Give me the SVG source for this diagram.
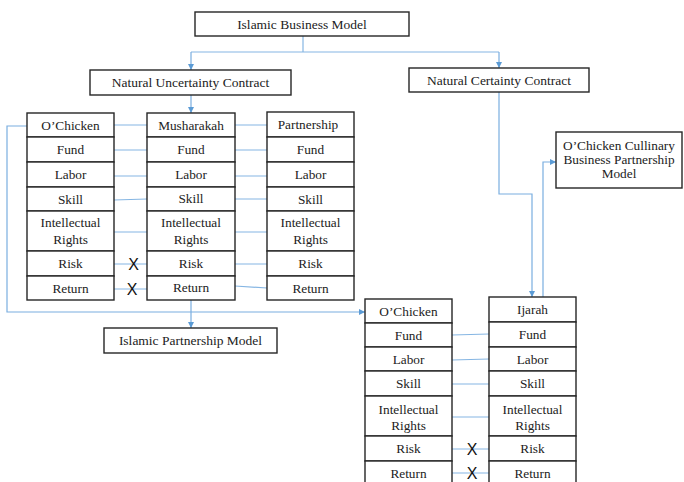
<svg xmlns="http://www.w3.org/2000/svg" width="684" height="482" viewBox="0 0 684 482">
<defs>
<marker id="ar" viewBox="0 0 10 10" refX="10" refY="5" markerWidth="6" markerHeight="6" orient="auto" markerUnits="userSpaceOnUse">
<path d="M0,0 L10,5 L0,10 z" fill="#5b9bd5"/>
</marker>
<style>
rect{fill:#fff;stroke:#262626;stroke-width:1.4}
text{font-family:"Liberation Serif","Times New Roman",serif;fill:#222;text-anchor:middle}
.t{font-size:13.3px}
.h{font-size:13.5px}
.x{font-family:"Liberation Sans",Arial,sans-serif;font-size:16px;fill:#111}
.c{fill:none;stroke:#86b6e3;stroke-width:1.2}
.a{fill:none;stroke:#7aaee0;stroke-width:1.2;marker-end:url(#ar)}
</style>
</defs>
<rect x="0" y="0" width="684" height="482" style="fill:#fff;stroke:none"/>
<g id="connectors">
<path class="c" d="M303,36 V52 M191,52 H499"/>
<path class="a" d="M191,52 V70"/>
<path class="a" d="M499,52 V68"/>
<path class="a" d="M191,95 V113"/>
<path class="a" d="M191,300 V328"/>
<path class="a" d="M27,126 H7 V312 H365"/>
<path class="a" d="M499,92 V194 H532 V297"/>
<path class="a" d="M543,297 V162 H556"/>
<path class="c" d="M114,125 H147 M114,150 H147 M114,176 H147 M114,200 L147,199 M114,232 H147 M114,264 H147 M114,289 H147"/>
<path class="c" d="M235,125 H267 M235,150 H267 M235,176 H267 M235,199 H267 M235,232 H267 M235,264 H267 M235,286 L267,288"/>
<path class="c" d="M452,335 L489,334 M452,360 L489,359 M452,384 H489 M452,417 H489 M452,449 H489 M452,473 H489"/>
</g>
<g id="islamic-business-model"><rect x="195" y="12" width="214" height="24"/><text class="h" x="302" y="28.5">Islamic Business Model</text></g>
<g id="natural-uncertainty"><rect x="90" y="70" width="201" height="25"/><text class="h" x="190.5" y="87">Natural Uncertainty Contract</text></g>
<g id="natural-certainty"><rect x="409" y="68" width="180" height="24"/><text class="h" x="499" y="85">Natural Certainty Contract</text></g>
<g id="islamic-partnership-model"><rect x="104" y="328" width="173" height="25"/><text class="h" x="190.5" y="345">Islamic Partnership Model</text></g>
<g id="ochicken-cullinary"><rect x="556" y="132" width="126" height="56"/><text class="t" x="619" y="149.5">O’Chicken Cullinary</text><text class="t" x="619" y="163.5">Business Partnership</text><text class="t" x="619" y="177.5">Model</text></g>
<g id="table-ochicken-left">
<rect x="27" y="113" width="87" height="24"/><text class="t" x="70.5" y="129.5">O’Chicken</text>
<rect x="27" y="137" width="87" height="25"/><text class="t" x="70.5" y="154">Fund</text>
<rect x="27" y="162" width="87" height="25"/><text class="t" x="70.5" y="179">Labor</text>
<rect x="27" y="187" width="87" height="24"/><text class="t" x="70.5" y="203.5">Skill</text>
<rect x="27" y="211" width="87" height="40"/><text class="t" x="70.5" y="226.5">Intellectual</text><text class="t" x="70.5" y="243.5">Rights</text>
<rect x="27" y="251" width="87" height="25"/><text class="t" x="70.5" y="268">Risk</text>
<rect x="27" y="276" width="87" height="24"/><text class="t" x="70.5" y="292.5">Return</text>
</g>
<g id="table-musharakah">
<rect x="147" y="113" width="88" height="24"/><text class="t" x="191" y="129.5">Musharakah</text>
<rect x="147" y="137" width="88" height="25"/><text class="t" x="191" y="154">Fund</text>
<rect x="147" y="162" width="88" height="25"/><text class="t" x="191" y="179">Labor</text>
<rect x="147" y="187" width="88" height="24"/><text class="t" x="191" y="203">Skill</text>
<rect x="147" y="211" width="88" height="40"/><text class="t" x="191" y="226.5">Intellectual</text><text class="t" x="191" y="243.5">Rights</text>
<rect x="147" y="251" width="88" height="25"/><text class="t" x="191" y="267.5">Risk</text>
<rect x="147" y="276" width="88" height="24"/><text class="t" x="191" y="292">Return</text>
</g>
<g id="table-partnership">
<rect x="267" y="112" width="87" height="25"/><text class="t" x="308" y="129">Partnership</text>
<rect x="267" y="137" width="87" height="25"/><text class="t" x="310.5" y="154">Fund</text>
<rect x="267" y="162" width="87" height="25"/><text class="t" x="310.5" y="179">Labor</text>
<rect x="267" y="187" width="87" height="24"/><text class="t" x="310.5" y="203.5">Skill</text>
<rect x="267" y="211" width="87" height="40"/><text class="t" x="310.5" y="226.5">Intellectual</text><text class="t" x="310.5" y="243.5">Rights</text>
<rect x="267" y="251" width="87" height="25"/><text class="t" x="310.5" y="268">Risk</text>
<rect x="267" y="276" width="87" height="24"/><text class="t" x="310.5" y="292.5">Return</text>
</g>
<g id="table-ochicken-right">
<rect x="365" y="299" width="87" height="24"/><text class="t" x="408.5" y="315.5">O’Chicken</text>
<rect x="365" y="323" width="87" height="24"/><text class="t" x="408.5" y="339.5">Fund</text>
<rect x="365" y="347" width="87" height="24"/><text class="t" x="408.5" y="363.5">Labor</text>
<rect x="365" y="371" width="87" height="25"/><text class="t" x="408.5" y="388">Skill</text>
<rect x="365" y="396" width="87" height="40"/><text class="t" x="408.5" y="413.5">Intellectual</text><text class="t" x="408.5" y="429.5">Rights</text>
<rect x="365" y="436" width="87" height="25"/><text class="t" x="408.5" y="453">Risk</text>
<rect x="365" y="461" width="87" height="26"/><text class="t" x="408.5" y="477.5">Return</text>
</g>
<g id="table-ijarah">
<rect x="489" y="297" width="87" height="25"/><text class="t" x="532.5" y="313.5">Ijarah</text>
<rect x="489" y="322" width="87" height="25"/><text class="t" x="532.5" y="338.5">Fund</text>
<rect x="489" y="347" width="87" height="24"/><text class="t" x="532.5" y="363.5">Labor</text>
<rect x="489" y="371" width="87" height="25"/><text class="t" x="532.5" y="388">Skill</text>
<rect x="489" y="396" width="87" height="40"/><text class="t" x="532.5" y="413.5">Intellectual</text><text class="t" x="532.5" y="429.5">Rights</text>
<rect x="489" y="436" width="87" height="25"/><text class="t" x="532.5" y="453">Risk</text>
<rect x="489" y="461" width="87" height="26"/><text class="t" x="532.5" y="477.5">Return</text>
</g>
<g id="marks">
<text class="x" x="133.5" y="270">X</text>
<text class="x" x="132" y="295">X</text>
<text class="x" x="472" y="455">X</text>
<text class="x" x="472" y="479">X</text>
</g>
</svg>
